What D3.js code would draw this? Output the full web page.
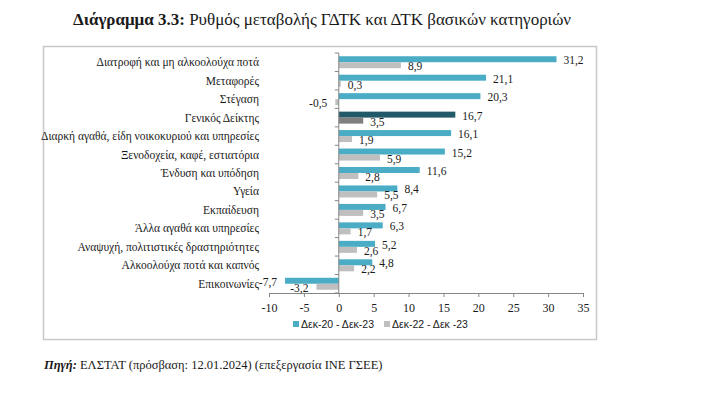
<!DOCTYPE html>
<html>
<head>
<meta charset="utf-8">
<script src="https://cdn.jsdelivr.net/npm/d3@7"></script>
<style>
body { margin:0; background:#fff; }
svg text { fill:#1a1a1a; }
.serif { font-family: "Liberation Serif", "DejaVu Serif", serif; }
.sans { font-family: "Liberation Sans", Arial, sans-serif; }
</style>
</head>
<body>
<svg id="chart" width="705" height="394"></svg>
<script>
var categories = ['Διατροφή και μη αλκοολούχα ποτά', 'Μεταφορές', 'Στέγαση', 'Γενικός Δείκτης',
	'Διαρκή αγαθά, είδη νοικοκυριού και υπηρεσίες', 'Ξενοδοχεία, καφέ, εστιατόρια', 'Ένδυση και υπόδηση',
	'Υγεία', 'Εκπαίδευση', 'Άλλα αγαθά και υπηρεσίες', 'Αναψυχή, πολιτιστικές δραστηριότητες',
	'Αλκοολούχα ποτά και καπνός', 'Επικοινωνίες'];
var dec20_23 = [31.2, 21.1, 20.3, 16.7, 16.1, 15.2, 11.6, 8.4, 6.7, 6.3, 5.2, 4.8, -7.7];
var dec22_23 = [8.9, 0.3, -0.5, 3.5, 1.9, 5.9, 2.8, 5.5, 3.5, 1.7, 2.6, 2.2, -3.2];
var seriesNames = ['Δεκ-20 - Δεκ-23', 'Δεκ-22 - Δεκ -23'];
var xTicks = [-10, -5, 0, 5, 10, 15, 20, 25, 30, 35];

var svg = d3.select('#chart');
var fmt = function(v){ return v.toFixed(1).replace('.', ','); };

// title
var title = svg.append('text').attr('class','serif').attr('x', 73).attr('y', 25).style('font-size','17px');
title.append('tspan').style('font-weight','bold').text('Διάγραμμα 3.3:');
title.append('tspan').text(' Ρυθμός μεταβολής ΓΔΤΚ και ΔΤΚ βασικών κατηγοριών');

// frame
svg.append('rect').attr('x', 43.5).attr('y', 46.5).attr('width', 553).attr('height', 293)
	.attr('fill','none').attr('stroke','#c8c8c8').attr('stroke-width', 1.5);

var x = d3.scaleLinear().domain([-10, 35]).range([269, 583]);
var y = d3.scaleBand().domain(categories).range([53, 293]).paddingInner(0.35).paddingOuter(0.175);
var step = y.step();
var bh = y.bandwidth()/2;

// bars
var rows = svg.append('g').selectAll('g').data(categories).enter().append('g')
	.attr('transform', function(d){ return 'translate(0,' + y(d) + ')'; });

rows.append('rect')
	.attr('x', function(d,i){ return x(Math.min(0, dec20_23[i])); })
	.attr('y', 0)
	.attr('width', function(d,i){ return Math.abs(x(dec20_23[i]) - x(0)); })
	.attr('height', bh)
	.attr('fill', function(d){ return d=='Γενικός Δείκτης' ? '#215968' : '#4bacc6'; });

rows.append('rect')
	.attr('x', function(d,i){ return x(Math.min(0, dec22_23[i])); })
	.attr('y', bh)
	.attr('width', function(d,i){ return Math.abs(x(dec22_23[i]) - x(0)); })
	.attr('height', bh)
	.attr('fill', function(d){ return d=='Γενικός Δείκτης' ? '#7f7f7f' : '#bfbfbf'; });

// value labels
function addLabels(vals, off){
	rows.append('text').attr('class','serif').style('font-size','11.5px')
		.attr('x', function(d,i){ return vals[i] < 0 ? x(vals[i]) - 8 : x(vals[i]) + 7; })
		.attr('y', off + bh/2 + 5)
		.attr('text-anchor', function(d,i){ return vals[i] < 0 ? 'end' : 'start'; })
		.text(function(d,i){ return fmt(vals[i]); });
}
addLabels(dec20_23, 0);
addLabels(dec22_23, bh);

// category labels
svg.append('g').selectAll('text').data(categories).enter().append('text')
	.attr('class','serif').style('font-size','11.5px')
	.attr('x', 259).attr('y', function(d){ return y(d) + y.bandwidth()/2 + 4; })
	.attr('text-anchor','end')
	.text(function(d){ return d; });

// vertical axis at 0
var vax = svg.append('g');
vax.append('line').attr('x1', x(0)).attr('x2', x(0)).attr('y1', 53).attr('y2', 293)
	.attr('stroke','#868686');
vax.selectAll('line.t').data(d3.range(categories.length + 1)).enter().append('line')
	.attr('x1', x(0) - 4).attr('x2', x(0))
	.attr('y1', function(i){ return 53 + i*step; }).attr('y2', function(i){ return 53 + i*step; })
	.attr('stroke','#868686');

// x axis
var xAxis = svg.append('g').attr('transform','translate(0,293)')
	.call(d3.axisBottom(x).tickValues(xTicks).tickSize(4).tickPadding(6).tickFormat(function(d){ return String(d); }));
xAxis.select('.domain').attr('stroke','#868686');
xAxis.selectAll('.tick line').attr('stroke','#868686');
xAxis.selectAll('.tick text').attr('class','serif').style('font-size','12px').attr('fill','#1a1a1a');

// legend
var legend = svg.append('g').attr('class','sans').style('font-size','10.5px');
var lx = [293, 384];
var lc = ['#4bacc6', '#bfbfbf'];
seriesNames.forEach(function(s, i){
	legend.append('rect').attr('x', lx[i]).attr('y', 321).attr('width', 6).attr('height', 6).attr('fill', lc[i]);
	legend.append('text').attr('x', lx[i] + 8).attr('y', 328).text(s);
});

// source
var src = svg.append('text').attr('class','serif').attr('x', 44).attr('y', 369).style('font-size','12.5px');
src.append('tspan').style('font-weight','bold').style('font-style','italic').text('Πηγή:');
src.append('tspan').text(' ΕΛΣΤΑΤ (πρόσβαση: 12.01.2024) (επεξεργασία ΙΝΕ ΓΣΕΕ)');
</script>
</body>
</html>
